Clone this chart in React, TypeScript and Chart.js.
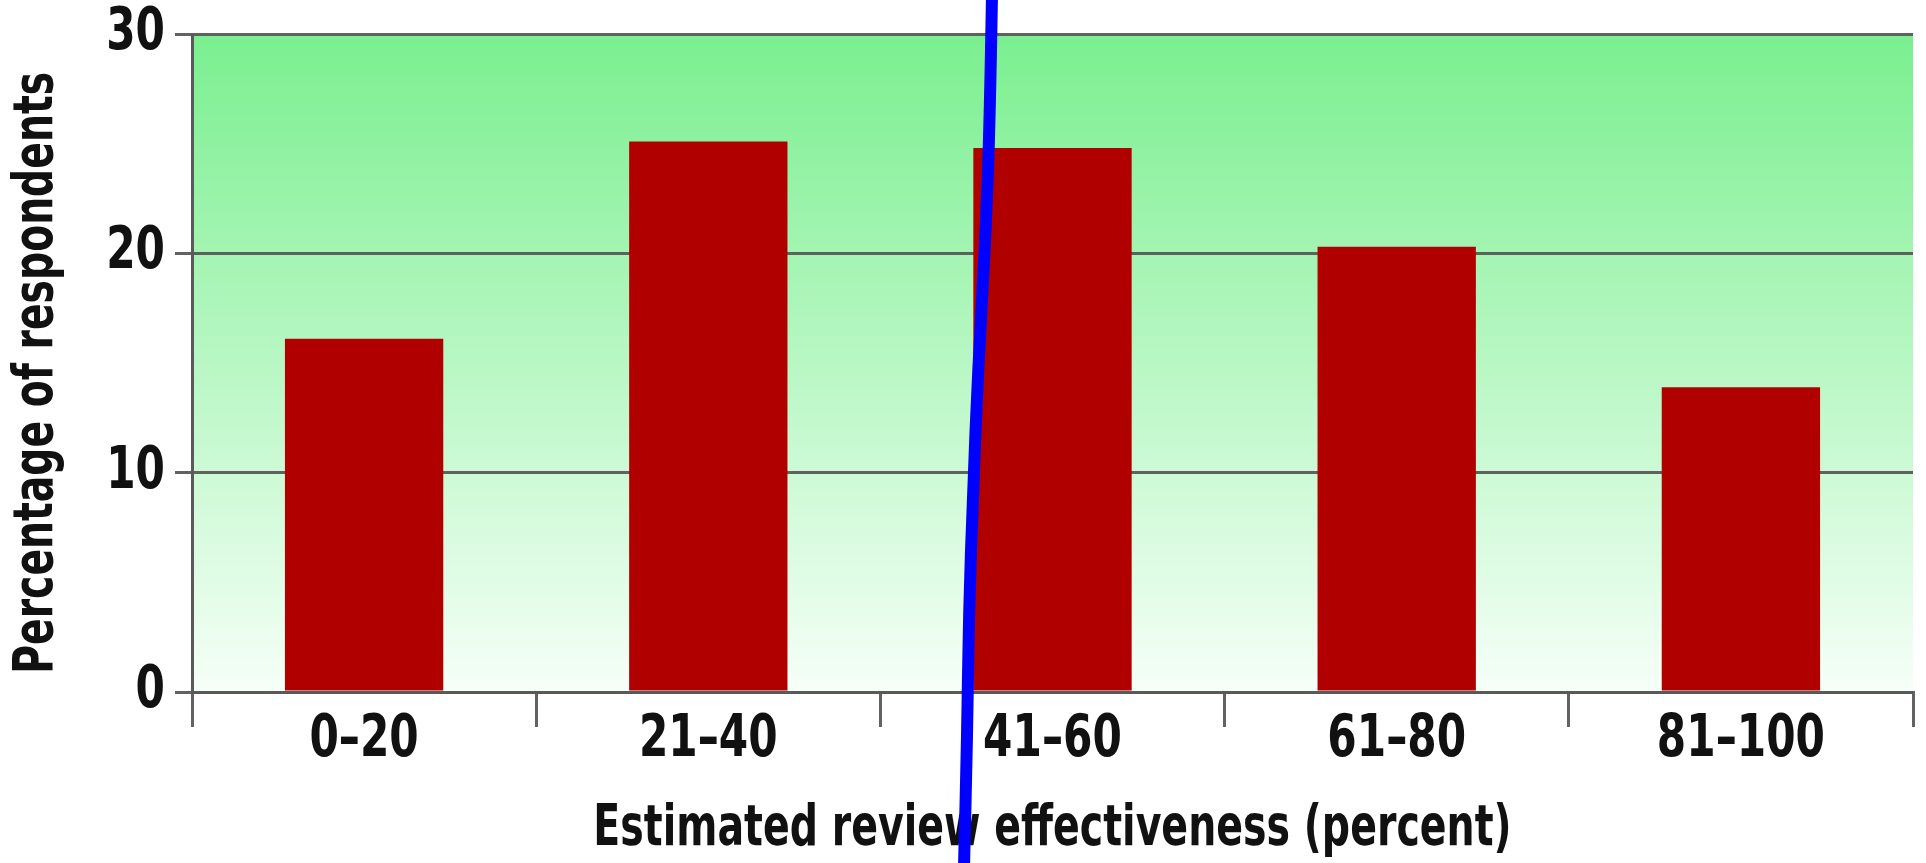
import React, { useEffect, useRef } from "react";
import { Chart, registerables } from "chart.js";

Chart.register(...registerables);

// Survey results: share of respondents per estimated-effectiveness band
const categories = ["0–20", "21–40", "41–60", "61–80", "81–100"];
const respondentShare = [16.1, 25.1, 24.8, 20.3, 13.9];
const yTicks = [0, 10, 20, 30];

// Freehand pen stroke across the figure, in axis units (category index, percent)
const strokeX = [1.824, 1.818, 1.804, 1.784, 1.769, 1.757, 1.752, 1.743];
const strokeY = [31.6, 25.9, 20.3, 14.75, 9.15, 3.54, -2.06, -7.9];

const FONT = '"Liberation Sans Narrow", "DejaVu Sans Condensed", "Arial Narrow", sans-serif';
const GRID = "rgba(90,90,90,0.95)";

// Horizontal squeeze per font size, giving the bold condensed look of the labels
const squeezeBySize: Record<string, number> = { "58px": 0.81, "57px": 0.77, "56px": 0.78 };

const narrowText = {
  id: "narrowText",
  beforeInit(chart: any) {
    const ctx = chart.ctx;
    if (ctx.__narrowPatched) return;
    ctx.__narrowPatched = true;
    const orig = ctx.fillText;
    ctx.fillText = function (text: string, x: number, y: number, maxWidth?: number) {
      const m = /(\d+)px/.exec(this.font);
      const k = m ? squeezeBySize[m[0]] ?? 1 : 1;
      this.save();
      this.translate(x, y);
      this.scale(k, 1);
      if (maxWidth !== undefined) orig.call(this, text, 0, 0, maxWidth / k);
      else orig.call(this, text, 0, 0);
      this.restore();
    };
  },
};

const plotBackground = {
  id: "plotBackground",
  beforeDraw(chart: any) {
    const { ctx, chartArea } = chart;
    const g = ctx.createLinearGradient(0, chartArea.top, 0, chartArea.bottom);
    g.addColorStop(0, "rgb(122,239,143)");
    g.addColorStop(1, "rgb(246,255,248)");
    ctx.save();
    ctx.fillStyle = g;
    ctx.fillRect(chartArea.left, chartArea.top, chartArea.right - chartArea.left, chartArea.bottom - chartArea.top);
    ctx.restore();
  },
};

const penStroke = {
  id: "penStroke",
  afterDraw(chart: any) {
    const { ctx, scales } = chart;
    const pts = strokeX.map((v, i) => ({
      x: scales.x.getPixelForValue(v),
      y: scales.y.getPixelForValue(strokeY[i]),
    }));
    ctx.save();
    ctx.strokeStyle = "#0000ff";
    ctx.lineWidth = 12;
    ctx.lineCap = "round";
    ctx.lineJoin = "round";
    ctx.beginPath();
    ctx.moveTo(pts[0].x, pts[0].y);
    for (let i = 1; i < pts.length - 1; i++) {
      const mx = (pts[i].x + pts[i + 1].x) / 2;
      const my = (pts[i].y + pts[i + 1].y) / 2;
      ctx.quadraticCurveTo(pts[i].x, pts[i].y, mx, my);
    }
    const last = pts[pts.length - 1];
    ctx.lineTo(last.x, last.y);
    ctx.stroke();
    ctx.restore();
  },
};

export default function App() {
  const ref = useRef<HTMLCanvasElement | null>(null);

  useEffect(() => {
    if (!ref.current) return;
    const chart = new Chart(ref.current, {
      type: "bar",
      data: {
        labels: categories,
        datasets: [
          {
            data: respondentShare,
            backgroundColor: "#b00000",
            borderWidth: 0,
            barPercentage: 0.46,
            categoryPercentage: 1,
          },
        ],
      },
      options: {
        responsive: false,
        animation: false,
        layout: { padding: { top: 34, right: 13, left: 0, bottom: 0 } },
        plugins: { legend: { display: false }, tooltip: { enabled: false } },
        scales: {
          x: {
            offset: true,
            grid: {
              offset: true,
              drawOnChartArea: true,
              color: (c: any) => (c.index === 0 || c.index === categories.length ? GRID : "rgba(0,0,0,0)"),
              tickColor: GRID,
              tickLength: 35,
              lineWidth: 3,
            },
            border: { display: true, color: GRID, width: 3 },
            ticks: {
              color: "#111",
              padding: -21,
              font: { family: FONT, size: 58, weight: "bold" },
            },
            title: {
              display: true,
              text: "Estimated review effectiveness (percent)",
              color: "#111",
              padding: { top: 0, bottom: -1 },
              font: { family: FONT, size: 57, weight: "bold" },
            },
            afterFit: (s: any) => {
              s.height = 171;
            },
          },
          y: {
            min: 0,
            max: 30,
            afterBuildTicks: (s: any) => {
              s.ticks = yTicks.map((v) => ({ value: v }));
            },
            grid: { color: GRID, tickColor: GRID, tickLength: 17, lineWidth: 3 },
            border: { display: true, color: GRID, width: 3 },
            ticks: {
              color: "#111",
              padding: 10,
              font: { family: FONT, size: 58, weight: "bold", lineHeight: 0.7 },
            },
            title: {
              display: true,
              // trailing en space nudges the centred title slightly toward the baseline end
              text: "Percentage of respondents\u2002",
              color: "#111",
              padding: { top: 4, bottom: 0 },
              font: { family: FONT, size: 56, weight: "bold" },
            },
            afterFit: (s: any) => {
              s.width = 192;
            },
          },
        },
      },
      plugins: [narrowText, plotBackground, penStroke],
    });
    return () => chart.destroy();
  }, []);

  return (
    <div style={{ position: "fixed", left: 0, top: 0, width: 1926, height: 863, background: "#fff" }}>
      <canvas ref={ref} width={1926} height={863} style={{ display: "block" }} />
    </div>
  );
}
